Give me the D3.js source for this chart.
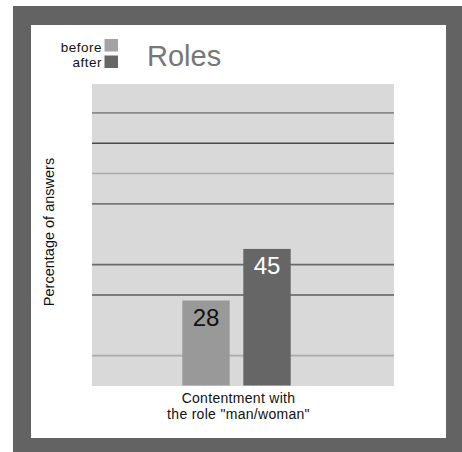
<!DOCTYPE html>
<html>
<head>
<meta charset="utf-8">
<script src="https://cdn.jsdelivr.net/npm/d3@7"></script>
<style>
  html, body { margin: 0; padding: 0; background: #ffffff; }
  svg { display: block; font-family: "Liberation Sans", Arial, sans-serif; }
</style>
</head>
<body>
<svg id="chart" width="462" height="452"></svg>
<script>
// ---- data ----
const title = "Roles";
const categories = ["Contentment with the role \"man/woman\""];
const categoryLines = ["Contentment with", "the role \"man/woman\""];
const seriesNames = ["before", "after"];
const beforeValues = [28];
const afterValues = [45];
const gridTicks = [10, 30, 40, 60, 70, 80, 90];
const yLabel = "Percentage of answers";

// ---- layout ----
const svg = d3.select("#chart");
const plot = { left: 92, right: 394, top: 84, bottom: 386 };
const colors = { before: "#999999", after: "#666666" };
const legendColors = { before: "#a3a3a3", after: "#676767" };
const gridColors = { 10: "#ababab", 30: "#5c5c5c", 40: "#6a6a6a", 60: "#787878", 70: "#acacac", 80: "#4a4a4a", 90: "#8a8a8a" };

// frame
svg.append("rect").attr("x", 13).attr("y", 6).attr("width", 449).attr("height", 446).attr("fill", "#636363");
svg.append("rect").attr("x", 31).attr("y", 25).attr("width", 415).attr("height", 413).attr("fill", "#ffffff");

// plot background
svg.append("rect")
  .attr("x", plot.left).attr("y", plot.top)
  .attr("width", plot.right - plot.left).attr("height", plot.bottom - plot.top)
  .attr("fill", "#d9d9d9");

// scales
const y = d3.scaleLinear().domain([0, 100]).range([385.5, 82]);
const x0 = d3.scaleBand().domain(categories).range([182.3, 290.7]).padding(0);
const x1 = d3.scaleBand().domain(seriesNames).range([0, x0.bandwidth()]).paddingInner(0.223).paddingOuter(0);

// gridlines via axis
const gridAxis = d3.axisLeft(y).tickValues(gridTicks).tickSize(-(plot.right - plot.left)).tickFormat("");
const g = svg.append("g").attr("transform", `translate(${plot.left},0)`).call(gridAxis);
g.select(".domain").remove();
g.selectAll(".tick line")
  .attr("stroke", d => gridColors[d])
  .attr("stroke-width", 1.6);

// bars
const rows = categories.map((c, i) => ({
  category: c,
  values: [
    { key: "before", value: beforeValues[i] },
    { key: "after", value: afterValues[i] }
  ]
}));

const groups = svg.append("g").selectAll("g")
  .data(rows).join("g")
  .attr("transform", d => `translate(${x0(d.category)},0)`);

groups.selectAll("rect")
  .data(d => d.values).join("rect")
  .attr("x", d => x1(d.key))
  .attr("y", d => y(d.value))
  .attr("width", x1.bandwidth())
  .attr("height", d => y(0) - y(d.value))
  .attr("fill", d => colors[d.key]);

groups.selectAll("text")
  .data(d => d.values).join("text")
  .attr("x", d => x1(d.key) + x1.bandwidth() / 2)
  .attr("y", d => y(d.value) + 25)
  .attr("text-anchor", "middle")
  .attr("font-size", 24)
  .attr("fill", d => d.key === "before" ? "#111111" : "#ffffff")
  .text(d => d.value);

// x category label
categoryLines.forEach((line, i) => {
  svg.append("text")
    .attr("x", 238.5).attr("y", 403 + i * 16.2)
    .attr("text-anchor", "middle")
    .attr("font-size", 14)
    .attr("letter-spacing", 0.3)
    .attr("fill", "#111111")
    .text(line);
});

// y label
svg.append("text")
  .attr("transform", "translate(54,232) rotate(-90)")
  .attr("text-anchor", "middle")
  .attr("font-size", 14.5)
  .attr("fill", "#111111")
  .text(yLabel);

// title
svg.append("text")
  .attr("x", 147).attr("y", 66)
  .attr("font-size", 29)
  .attr("fill", "#777777")
  .text(title);

// legend
const legend = svg.append("g");
seriesNames.forEach((s, i) => {
  legend.append("text")
    .attr("x", 102).attr("y", 51.5 + i * 15.5)
    .attr("text-anchor", "end")
    .attr("font-size", 13.5)
    .attr("letter-spacing", 0.5)
    .attr("fill", "#111111")
    .text(s);
  legend.append("rect")
    .attr("x", 104.5).attr("y", 39 + i * 16.5)
    .attr("width", 13.5).attr("height", 12.5)
    .attr("fill", legendColors[s]);
});
</script>
</body>
</html>
